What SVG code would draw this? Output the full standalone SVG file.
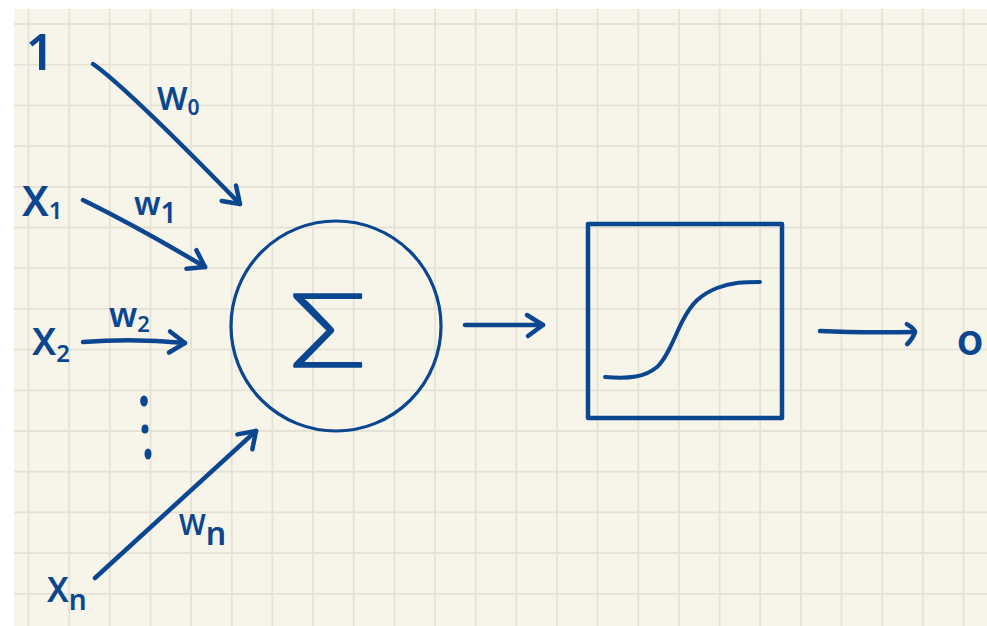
<svg xmlns="http://www.w3.org/2000/svg" width="987" height="626" viewBox="0 0 987 626">
<style>
.ink{stroke:#0b4690;fill:none;stroke-linecap:round;stroke-linejoin:round}
.line{stroke-width:4.5}
.lbl{fill:#0b4690;font-family:"Noto Sans","DejaVu Sans",sans-serif;font-weight:600}
.grid{stroke:#e5e2d4;stroke-width:1.8;fill:none}
</style>
<defs>
<marker id="head" markerUnits="userSpaceOnUse" viewBox="-22 -14 26 28" markerWidth="26" markerHeight="28" refX="0" refY="0" orient="auto" overflow="visible">
<path d="M-16,-10 L0,0 L-15,11" class="ink" stroke-width="4.5"/>
</marker>
<marker id="headSmall" markerUnits="userSpaceOnUse" viewBox="-14 -14 18 28" markerWidth="18" markerHeight="28" refX="0" refY="0" orient="auto" overflow="visible">
<path d="M-8,-8 Q0,-3 0,0 Q-2,6 -8,12" class="ink" stroke-width="4.5"/>
</marker>
</defs>
<rect x="0" y="0" width="987" height="626" fill="#ffffff"/>
<rect x="14" y="9" width="973" height="617" fill="#f7f5ea"/>
<path class="grid" d="M28.5,9V626M69.2,9V626M109.8,9V626M150.5,9V626M191.1,9V626M231.8,9V626M272.4,9V626M313.1,9V626M353.7,9V626M394.4,9V626M435,9V626M475.7,9V626M516.3,9V626M557,9V626M597.6,9V626M638.3,9V626M678.9,9V626M719.6,9V626M760.2,9V626M800.9,9V626M841.5,9V626M882.2,9V626M922.8,9V626M963.5,9V626M14,24H987M14,64.7H987M14,105.4H987M14,146.1H987M14,186.8H987M14,227.5H987M14,268.2H987M14,308.9H987M14,349.6H987M14,390.3H987M14,431H987M14,471.7H987M14,512.4H987M14,553.1H987M14,593.8H987"/>

<g id="input-bias">
<text class="lbl" x="40" y="70" font-size="50" font-weight="500" text-anchor="middle">1</text>
</g>
<g id="input-x1">
<text class="lbl" x="22" y="216" font-size="42">X<tspan font-size="24" dy="3">1</tspan></text>
</g>
<g id="input-x2">
<text class="lbl" x="32" y="355" font-size="38">X<tspan font-size="24" dy="7">2</tspan></text>
</g>
<g id="input-dots">
<ellipse cx="144" cy="401" rx="3.8" ry="5.5" fill="#0b4690"/>
<ellipse cx="145" cy="429" rx="3.5" ry="4.5" fill="#0b4690"/>
<ellipse cx="148" cy="454" rx="3.5" ry="5.5" fill="#0b4690"/>
</g>
<g id="input-xn">
<text class="lbl" x="47" y="602" font-size="34">X<tspan font-size="28" dy="8">n</tspan></text>
</g>

<g id="sum-node">
<circle cx="336" cy="326" r="105" class="ink" stroke-width="3.2"/>
<text transform="translate(328,367) scale(1.28,1.02)" x="0" y="0" font-size="100" text-anchor="middle" fill="#0b4690" stroke="#0b4690" stroke-width="1.6" stroke-linejoin="round" font-family="Lato, 'DejaVu Sans', sans-serif" font-weight="300">Σ</text>
</g>

<g id="activation-node">
<rect x="588" y="224" width="194" height="194" class="ink" stroke-width="4.5" stroke-linejoin="miter"/>
<path d="M605,377 C630,379 645,377 657,367 C668,357 675,335 683,320 C692,303 700,295 717,288 C732,282 745,282 760,282" class="ink" stroke-width="4"/>
</g>

<g id="output-node">
<text class="lbl" x="970" y="355" font-size="44" font-weight="700" text-anchor="middle">o</text>
</g>

<g id="connectors">
<path d="M93,64 Q125,86 240,204" class="ink line" marker-end="url(#head)"/>
<text class="lbl" x="157" y="110" font-size="32">W<tspan font-size="21" dy="5">0</tspan></text>
<path d="M83,200 Q140,228 205,267" class="ink line" marker-end="url(#head)"/>
<text class="lbl" x="134" y="215" font-size="32">w<tspan font-size="28" dy="8">1</tspan></text>
<path d="M83,342 Q134,338 185,343" class="ink line" marker-end="url(#head)"/>
<text class="lbl" x="109" y="327" font-size="34">w<tspan font-size="22" dy="5">2</tspan></text>
<path d="M95,578 L256,431" class="ink line" marker-end="url(#head)"/>
<text class="lbl" x="179" y="535" font-size="28">W<tspan font-size="32" dy="10">n</tspan></text>
<path d="M465,325 L543,325" class="ink line" marker-end="url(#head)"/>
<path d="M820,331 Q860,333 915,332" class="ink line" marker-end="url(#headSmall)"/>
</g>
</svg>
